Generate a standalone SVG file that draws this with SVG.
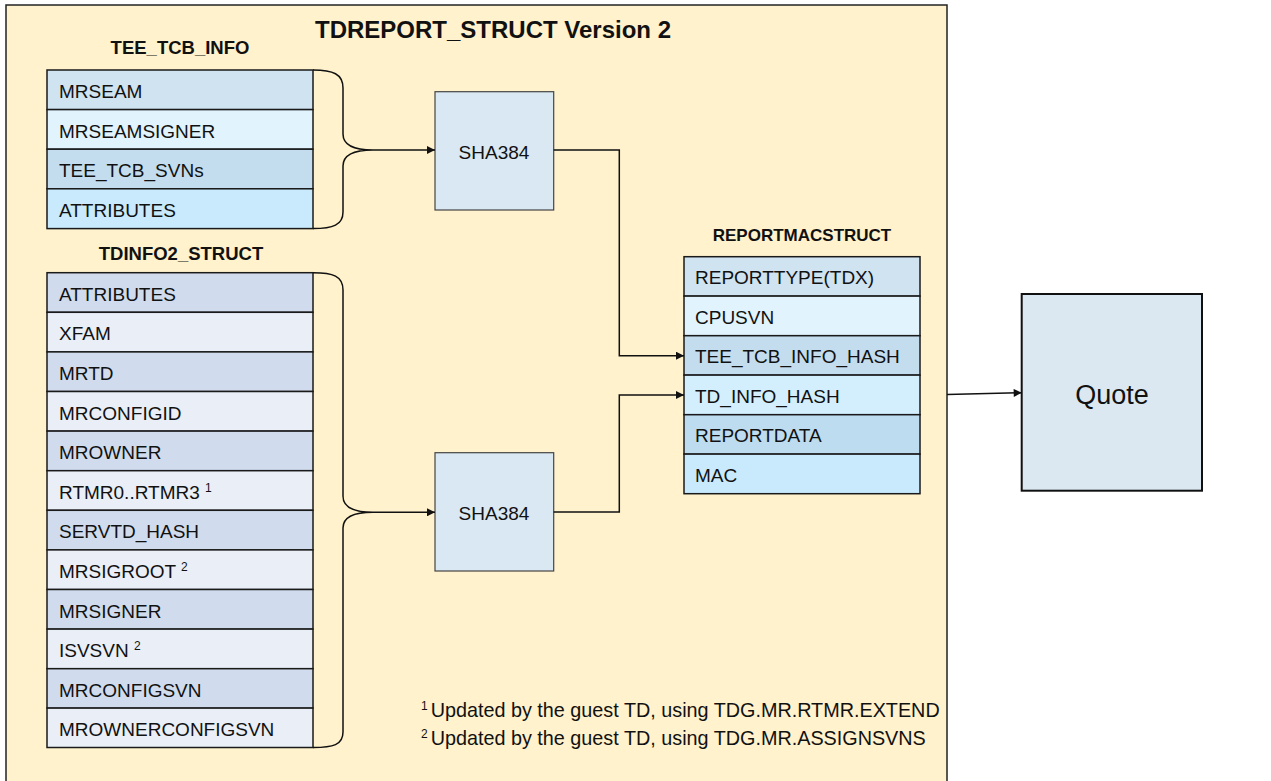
<svg xmlns="http://www.w3.org/2000/svg" width="1271" height="781" viewBox="0 0 1271 781">
<defs>
<style>
.t{font-family:"Liberation Sans",Arial,sans-serif;font-size:19px;fill:#111}
.b{font-family:"Liberation Sans",Arial,sans-serif;font-weight:bold;fill:#111}
.sup{font-size:12px}
.fn{font-size:19.8px}
.q{font-size:27px}
.cell{stroke:#1a1a1a;stroke-width:1.5}
.a{fill:#cfe3f1}.b2{fill:#e1f3fd}.c{fill:#c3ddef}.d{fill:#c8eafc}.e{fill:#d3effd}.f{fill:#bddcef}
.dk{fill:#d0dcee}.lt{fill:#e9eef7}
.con{fill:none;stroke:#111;stroke-width:1.5}
</style>
<marker id="arr2" viewBox="0 0 10 10" refX="10" refY="5" markerWidth="9" markerHeight="8" orient="auto" markerUnits="userSpaceOnUse">
<path d="M0,0 L10,5 L0,10 z" fill="#111"/>
</marker>
</defs>
<rect x="0" y="0" width="1271" height="781" fill="#fff"/>
<g id="tdreport">
<rect x="6" y="5" width="941" height="790" fill="#fff2cc" stroke="#222" stroke-width="1.5"/>
<text class="b" x="493" y="38" font-size="24" text-anchor="middle">TDREPORT_STRUCT Version 2</text>
</g>
<g id="tee_tcb_info">
<text class="b" x="180" y="54" font-size="18.5" text-anchor="middle">TEE_TCB_INFO</text>
<rect class="cell a" x="47" y="70" width="266" height="39.6"/>
<rect class="cell b2" x="47" y="109.6" width="266" height="39.6"/>
<rect class="cell c" x="47" y="149.2" width="266" height="39.6"/>
<rect class="cell d" x="47" y="188.8" width="266" height="39.8"/>
<text class="t" x="59" y="98">MRSEAM</text>
<text class="t" x="59" y="137.6">MRSEAMSIGNER</text>
<text class="t" x="59" y="177.2">TEE_TCB_SVNs</text>
<text class="t" x="59" y="216.8">ATTRIBUTES</text>
</g>
<g id="tdinfo2_struct">
<text class="b" x="181" y="260" font-size="18.5" text-anchor="middle">TDINFO2_STRUCT</text>
<rect class="cell dk" x="47" y="272.7" width="266" height="39.6"/>
<rect class="cell lt" x="47" y="312.3" width="266" height="39.6"/>
<rect class="cell dk" x="47" y="351.9" width="266" height="39.6"/>
<rect class="cell lt" x="47" y="391.5" width="266" height="39.6"/>
<rect class="cell dk" x="47" y="431.1" width="266" height="39.6"/>
<rect class="cell lt" x="47" y="470.7" width="266" height="39.6"/>
<rect class="cell dk" x="47" y="510.3" width="266" height="39.6"/>
<rect class="cell lt" x="47" y="549.9" width="266" height="39.6"/>
<rect class="cell dk" x="47" y="589.5" width="266" height="39.6"/>
<rect class="cell lt" x="47" y="629.1" width="266" height="39.6"/>
<rect class="cell dk" x="47" y="668.7" width="266" height="39.4"/>
<rect class="cell lt" x="47" y="708.1" width="266" height="39.4"/>
<text class="t" x="59" y="300.7">ATTRIBUTES</text>
<text class="t" x="59" y="340.3">XFAM</text>
<text class="t" x="59" y="379.9">MRTD</text>
<text class="t" x="59" y="419.5">MRCONFIGID</text>
<text class="t" x="59" y="459.1">MROWNER</text>
<text class="t" x="59" y="498.7">RTMR0..RTMR3 <tspan class="sup" dy="-7">1</tspan></text>
<text class="t" x="59" y="538.3">SERVTD_HASH</text>
<text class="t" x="59" y="577.9">MRSIGROOT <tspan class="sup" dy="-7">2</tspan></text>
<text class="t" x="59" y="617.5">MRSIGNER</text>
<text class="t" x="59" y="657.1">ISVSVN <tspan class="sup" dy="-7">2</tspan></text>
<text class="t" x="59" y="696.7">MRCONFIGSVN</text>
<text class="t" x="59" y="736.1">MROWNERCONFIGSVN</text>
</g>
<g id="sha384_1">
<rect x="435" y="91.7" width="118.7" height="118.3" fill="#dae8f3" stroke="#444" stroke-width="1.2"/>
<text class="t" x="494" y="159" text-anchor="middle">SHA384</text>
</g>
<g id="sha384_2">
<rect x="435" y="452.7" width="118.7" height="118.3" fill="#dae8f3" stroke="#444" stroke-width="1.2"/>
<text class="t" x="494" y="520" text-anchor="middle">SHA384</text>
</g>
<g id="reportmacstruct">
<text class="b" x="802" y="241" font-size="17" text-anchor="middle">REPORTMACSTRUCT</text>
<rect class="cell a" x="684" y="256.7" width="236" height="39.4"/>
<rect class="cell b2" x="684" y="296.1" width="236" height="39.6"/>
<rect class="cell c" x="684" y="335.7" width="236" height="39.4"/>
<rect class="cell e" x="684" y="375.1" width="236" height="39.6"/>
<rect class="cell f" x="684" y="414.7" width="236" height="39.4"/>
<rect class="cell d" x="684" y="454.1" width="236" height="39.6"/>
<text class="t" x="695" y="284.3">REPORTTYPE(TDX)</text>
<text class="t" x="695" y="323.8">CPUSVN</text>
<text class="t" x="695" y="363.3">TEE_TCB_INFO_HASH</text>
<text class="t" x="695" y="402.8">TD_INFO_HASH</text>
<text class="t" x="695" y="442.3">REPORTDATA</text>
<text class="t" x="695" y="481.8">MAC</text>
</g>
<g id="quote">
<rect x="1021.7" y="294" width="180.3" height="196.7" fill="#dbe8f2" stroke="#111" stroke-width="2"/>
<text class="t q" x="1112" y="403.5" text-anchor="middle">Quote</text>
</g>
<g id="connectors">
<path class="con" d="M313,70 C333,70 343,74 343,88 L343,134 C343,146 355,150 373,150 C355,150 343,154 343,166 L343,212 C343,225 333,228.6 313,228.6"/>
<path class="con" d="M313,272.7 C333,272.7 343,276 343,290 L343,496 C343,508 355,512.3 373,512.3 C355,512.3 343,516 343,528 L343,732 C343,745 333,747.5 313,747.5"/>
<path class="con" d="M373,150 L435,150" marker-end="url(#arr2)"/>
<path class="con" d="M373,512.3 L435,512.3" marker-end="url(#arr2)"/>
<path class="con" d="M553.7,150 L619.3,150 L619.3,355.7 L684,355.7" marker-end="url(#arr2)"/>
<path class="con" d="M553.7,512 L619.3,512 L619.3,395 L684,395" marker-end="url(#arr2)"/>
<path class="con" d="M947,394.5 L1021.7,392.7" marker-end="url(#arr2)"/>
</g>
<g id="footnotes">
<text class="t fn" x="421" y="717.3"><tspan class="sup" dy="-7">1</tspan><tspan dy="7" dx="3">Updated by the guest TD, using TDG.MR.RTMR.EXTEND</tspan></text>
<text class="t fn" x="421" y="745"><tspan class="sup" dy="-7">2</tspan><tspan dy="7" dx="3">Updated by the guest TD, using TDG.MR.ASSIGNSVNS</tspan></text>
</g>
</svg>
